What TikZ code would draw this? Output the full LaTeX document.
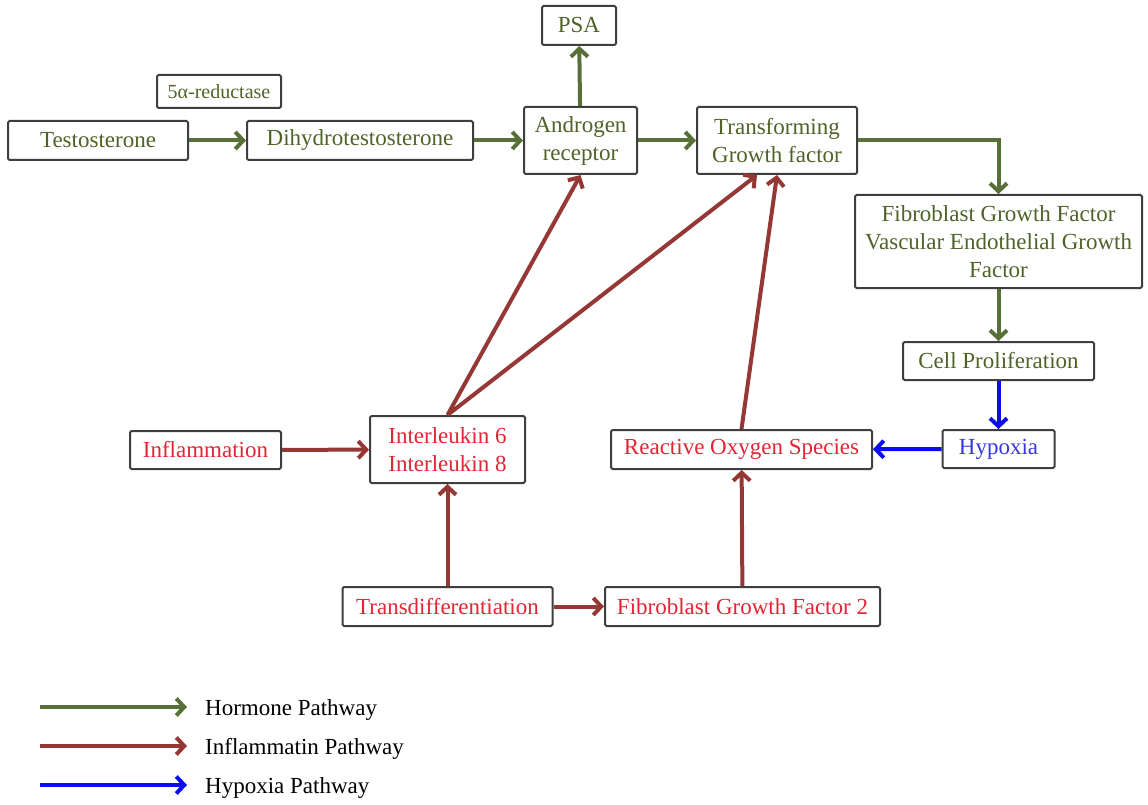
\documentclass[tikz,border=0pt]{standalone}
\usepackage{fontspec}
\setmainfont{Liberation Serif}
\usetikzlibrary{arrows.meta, calc}
\definecolor{hormone}{RGB}{87,112,56}
\definecolor{hormtext}{RGB}{79,98,40}
\definecolor{inflam}{RGB}{149,55,53}
\definecolor{inftext}{RGB}{226,36,52}
\definecolor{hypox}{RGB}{12,12,240}
\definecolor{hyptext}{RGB}{55,55,225}
\definecolor{boxline}{RGB}{62,62,62}

\begin{document}
\begin{tikzpicture}[x=1pt, y=-1pt,
		box/.style={draw=boxline, line width=2pt, rounded corners=1.5pt, inner sep=0pt,
			align=center, font=\fontsize{23}{28}\selectfont},
		hbox/.style={box, text=hormtext},
		ibox/.style={box, text=inftext},
		pbox/.style={box, text=hyptext},
		harrow/.style={draw=hormone, line width=4pt, -{Straight Barb[length=8pt, width=17pt]}},
		iarrow/.style={draw=inflam, line width=4pt, -{Straight Barb[length=8pt, width=17pt]}},
		parrow/.style={draw=hypox, line width=4pt, -{Straight Barb[length=8pt, width=17pt]}}]
				\useasboundingbox (0,0) rectangle (1148,805);
				
				% hormone pathway
				\node[hbox, minimum width=124pt, minimum height=33pt, font=\fontsize{20}{24}\selectfont] (red5) at (219,91.5) {5α-reductase};
				\node[hbox, minimum width=180pt, minimum height=39pt] (testo) at (98,140.5) {Testosterone};
				\node[hbox, minimum width=226pt, minimum height=39pt] (dht) at (360,140.5) {Dihydrotestosterone};
				\node[hbox, minimum width=74pt, minimum height=39pt] (psa) at (579,25.5) {PSA};
				\node[hbox, minimum width=113pt, minimum height=67pt] (ar) at (580.5,140.5) {Androgen\\receptor};
				\node[hbox, minimum width=160pt, minimum height=67pt] (tgf) at (777,140.5) {Transforming\\Growth factor};
				\node[hbox, minimum width=287pt, minimum height=93pt] (fgf) at (998.5,241.5) {Fibroblast Growth Factor\\Vascular Endothelial Growth\\Factor};
				\node[hbox, minimum width=191pt, minimum height=38pt] (cell) at (998.5,361) {Cell Proliferation};
				
				% hypoxia
				\node[pbox, minimum width=112pt, minimum height=38pt] (hyp) at (998.5,449) {Hypoxia};
				
				% inflammation pathway
				\node[ibox, minimum width=261pt, minimum height=39pt] (ros) at (741.5,449.5) {Reactive Oxygen Species};
				\node[ibox, minimum width=155pt, minimum height=67pt] (il) at (447.5,449.5) {Interleukin 6\\Interleukin 8};
				\node[ibox, minimum width=151pt, minimum height=38pt] (infl) at (205.5,450) {Inflammation};
				\node[ibox, minimum width=210pt, minimum height=39pt] (trans) at (447.5,606.5) {Transdifferentiation};
				\node[ibox, minimum width=275pt, minimum height=39pt] (fgf2) at (742.5,606.5) {Fibroblast Growth Factor 2};
				
				\draw[harrow] (testo) -- (dht);
				\draw[harrow] (dht) -- (ar);
				\draw[harrow] (ar) -- (tgf);
				\draw[harrow] (ar) -- (psa);
				\draw[harrow] (tgf.east) -| (fgf.north);
				\draw[harrow] (fgf) -- (cell);
				\draw[parrow] (cell) -- (hyp);
				\draw[parrow] (hyp) -- (ros);
				
				\draw[iarrow] (il.north) -- (ar.south);
				\draw[iarrow] (il.north) -- ([xshift=-20pt]tgf.south);
				\draw[iarrow] (ros.north) -- (tgf.south);
				\draw[iarrow] (infl) -- (il);
				\draw[iarrow] (trans) -- (il);
				\draw[iarrow] (trans) -- (fgf2);
				\draw[iarrow] (fgf2) -- (ros);
				
				% legend
				\foreach \i/\col/\txt/\y in {1/harrow/Hormone Pathway/707, 2/iarrow/Inflammatin Pathway/746, 3/parrow/Hypoxia Pathway/785}
				{
				\coordinate (leg\i) at (40,\y);
				\node[anchor=west, inner sep=0pt, font=\fontsize{23}{28}\selectfont] (lt\i) at (205,\y+3) {\txt};
				\draw[\col, shorten >=18pt] (leg\i) -- (leg\i -| lt\i.west);
				}
			\end{tikzpicture}
\end{document}
